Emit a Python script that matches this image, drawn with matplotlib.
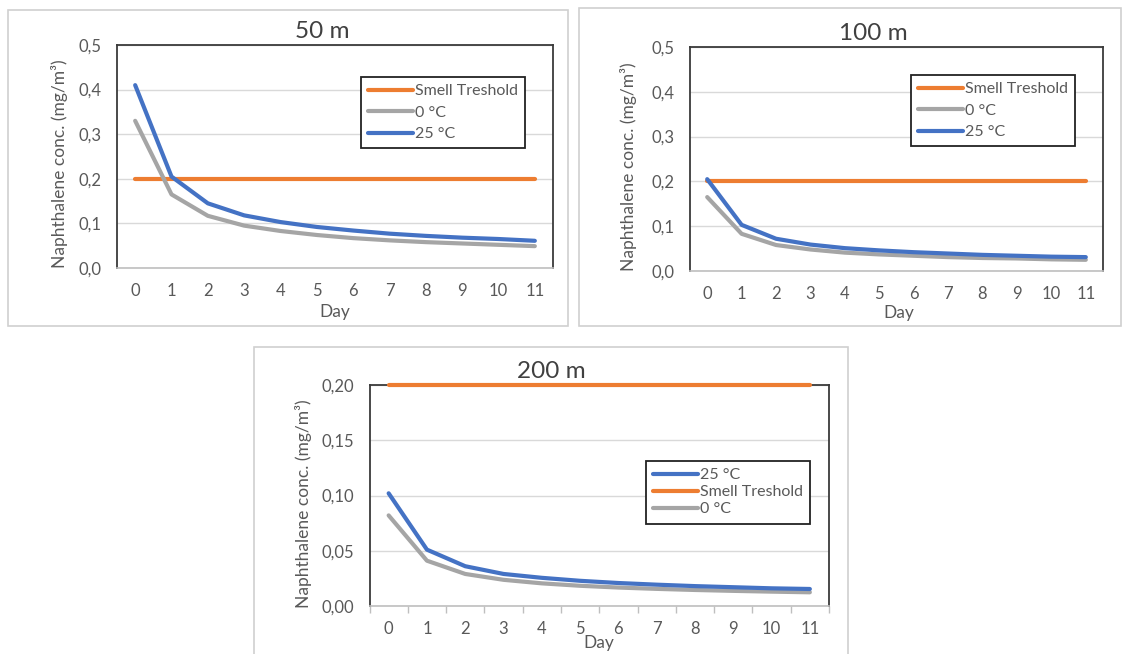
import matplotlib
matplotlib.use("Agg")
import matplotlib.pyplot as plt
from matplotlib.patches import Rectangle
from matplotlib.ticker import FuncFormatter, FixedLocator

plt.rcParams['font.family'] = ['Lato', 'DejaVu Sans']

days = list(range(12))
day_labels = [str(d) for d in days]

threshold = [0.2] * 12

c25_50 = [0.410, 0.205, 0.145, 0.118, 0.103, 0.092, 0.084, 0.077, 0.072, 0.068, 0.065, 0.061]
c0_50 = [0.330, 0.165, 0.117, 0.095, 0.083, 0.074, 0.067, 0.062, 0.058, 0.055, 0.052, 0.049]

c25_100 = [0.205, 0.103, 0.072, 0.059, 0.051, 0.046, 0.042, 0.039, 0.036, 0.034, 0.032, 0.031]
c0_100 = [0.165, 0.083, 0.058, 0.048, 0.041, 0.037, 0.034, 0.031, 0.029, 0.028, 0.026, 0.025]

c25_200 = [0.102, 0.051, 0.036, 0.029, 0.0255, 0.0228, 0.0208, 0.0193, 0.018, 0.017, 0.016, 0.0154]
c0_200 = [0.082, 0.041, 0.029, 0.0237, 0.0205, 0.0183, 0.0167, 0.0155, 0.0145, 0.0137, 0.013, 0.0124]

titles = ["50 m", "100 m", "200 m"]
lbl_thr = "Smell Treshold"
lbl_0 = "0 °C"
lbl_25 = "25 °C"
ylabel = "Naphthalene conc. (mg/m³)"
xlabel = "Day"

ORANGE = "#ED7D31"
GRAY = "#A5A5A5"
BLUE = "#4472C4"
TXT = "#595959"
GRID = "#D9D9D9"
FRAME = "#3a3a3a"

W, H = 1122, 654
fig = plt.figure(figsize=(W / 100, H / 100), dpi=100)

def fx(x):
    return x / W

def fy(y):
    return 1 - y / H

# panel borders
for (x0, y0, x1, y1) in [(8, 10, 568, 326), (579, 8, 1121, 326), (254, 347, 848, 660)]:
    fig.patches.append(Rectangle((fx(x0), fy(y1)), fx(x1 - x0), (y1 - y0) / H,
                                 transform=fig.transFigure, fill=False,
                                 edgecolor="#D0D0D0", lw=1.2))

def make_axes(box, ymax, ystep, decimals, ticks_marks):
    l, t, r, b = box
    ax = fig.add_axes([fx(l), fy(b), fx(r - l), (b - t) / H])
    ax.set_xlim(-0.5, 11.5)
    ax.set_ylim(0, ymax)
    yt = [round(i * ystep, 4) for i in range(int(round(ymax / ystep)) + 1)]
    ax.set_yticks(yt)
    ax.yaxis.set_major_formatter(FuncFormatter(lambda v, p: (f"{v:.{decimals}f}").replace(".", ",")))
    ax.set_xticks(days)
    ax.set_xticklabels(day_labels)
    ax.grid(axis='y', color=GRID, lw=1.0)
    ax.set_axisbelow(True)
    for s in ['left', 'top', 'right']:
        ax.spines[s].set_color(FRAME)
        ax.spines[s].set_linewidth(1.3)
    ax.spines['bottom'].set_color("#BFBFBF")
    ax.spines['bottom'].set_linewidth(1.2)
    ax.tick_params(axis='y', length=0, pad=11, labelsize=12, labelcolor=TXT)
    ax.tick_params(axis='x', length=0, pad=11, labelsize=12, labelcolor=TXT)
    if ticks_marks:
        ax.xaxis.set_minor_locator(FixedLocator([d - 0.5 for d in days] + [11.5]))
        ax.tick_params(axis='x', which='minor', length=5, color="#BFBFBF", width=1)
    return ax

panels = [
    dict(box=(117, 45, 553, 268), ymax=0.5, ystep=0.1, dec=1, marks=False,
         c25=c25_50, c0=c0_50, order=['thr', '0', '25'],
         leg=(361, 77, 531, 149), title=(322, 31), xl=(335, 312), yl=(60, 164)),
    dict(box=(690, 47, 1103, 271), ymax=0.5, ystep=0.1, dec=1, marks=False,
         c25=c25_100, c0=c0_100, order=['thr', '0', '25'],
         leg=(911, 75, 1086, 148), title=(873, 33), xl=(899, 313), yl=(629, 167)),
    dict(box=(369.5, 385, 829, 606), ymax=0.2, ystep=0.05, dec=2, marks=True,
         c25=c25_200, c0=c0_200, order=['25', 'thr', '0'],
         leg=(646, 461, 809, 524), title=(551, 371), xl=(599, 643), yl=(304, 504)),
]

for i, p in enumerate(panels):
    ax = make_axes(p['box'], p['ymax'], p['ystep'], p['dec'], p['marks'])
    h_thr, = ax.plot(days, threshold, color=ORANGE, lw=3, solid_capstyle='round', clip_on=False, zorder=3)
    h0, = ax.plot(days, p['c0'], color=GRAY, lw=3, solid_capstyle='round', zorder=4)
    h25, = ax.plot(days, p['c25'], color=BLUE, lw=3, solid_capstyle='round', zorder=5)
    hmap = {'thr': (h_thr, lbl_thr), '0': (h0, lbl_0), '25': (h25, lbl_25)}
    hs = [hmap[k][0] for k in p['order']]
    ls = [hmap[k][1] for k in p['order']]
    lx0, ly0, lx1, ly1 = p['leg']
    leg = ax.legend(hs, ls, loc='upper left', bbox_to_anchor=(fx(lx0), fy(ly0)),
                    bbox_transform=fig.transFigure, fontsize=11.5, frameon=True,
                    fancybox=False, edgecolor='#222222', framealpha=1,
                    handlelength=2.8, handletextpad=0.1, borderaxespad=0,
                    labelspacing=0.45 if i < 2 else 0.18, borderpad=0.45,
                    labelcolor=TXT)
    leg.get_frame().set_linewidth(1.3)
    fig.text(fx(p['title'][0]), fy(p['title'][1]), titles[i], ha='center', va='center',
             fontsize=17.5, color="#404040")
    fig.text(fx(p['xl'][0]), fy(p['xl'][1]), xlabel, ha='center', va='center',
             fontsize=12.5, color=TXT)
    fig.text(fx(p['yl'][0]), fy(p['yl'][1]), ylabel, ha='center', va='center',
             rotation=90, fontsize=12.5, color=TXT)

fig.savefig("out.png", dpi=100, facecolor='white')
